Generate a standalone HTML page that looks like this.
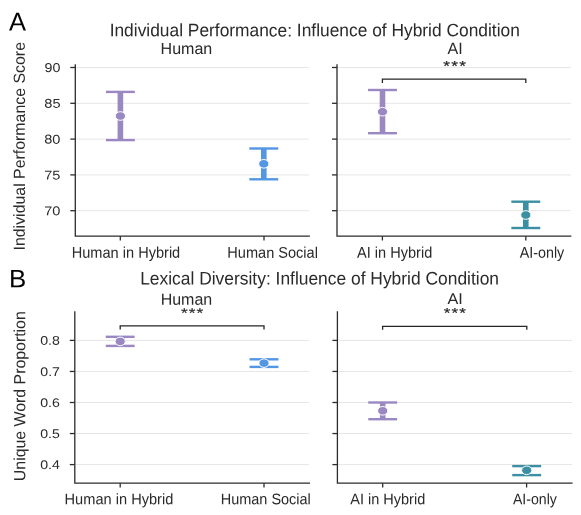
<!DOCTYPE html>
<html><head><meta charset="utf-8"><style>
html,body{margin:0;padding:0;background:#fff;}
svg{display:block;will-change:transform;font-family:"Liberation Sans",sans-serif;}
</style></head><body>
<svg width="581" height="515" viewBox="0 0 581 515">
<rect width="581" height="515" fill="#fff"/>
<line x1="76.10" x2="308.90" y1="67.5" y2="67.5" stroke="#e6e6e6" stroke-width="1"/>
<line x1="76.10" x2="308.90" y1="103.3" y2="103.3" stroke="#e6e6e6" stroke-width="1"/>
<line x1="76.10" x2="308.90" y1="139.1" y2="139.1" stroke="#e6e6e6" stroke-width="1"/>
<line x1="76.10" x2="308.90" y1="174.9" y2="174.9" stroke="#e6e6e6" stroke-width="1"/>
<line x1="76.10" x2="308.90" y1="210.7" y2="210.7" stroke="#e6e6e6" stroke-width="1"/>
<line x1="337.80" x2="571.00" y1="67.5" y2="67.5" stroke="#e6e6e6" stroke-width="1"/>
<line x1="337.80" x2="571.00" y1="103.3" y2="103.3" stroke="#e6e6e6" stroke-width="1"/>
<line x1="337.80" x2="571.00" y1="139.1" y2="139.1" stroke="#e6e6e6" stroke-width="1"/>
<line x1="337.80" x2="571.00" y1="174.9" y2="174.9" stroke="#e6e6e6" stroke-width="1"/>
<line x1="337.80" x2="571.00" y1="210.7" y2="210.7" stroke="#e6e6e6" stroke-width="1"/>
<line x1="75.60" x2="309.10" y1="340.4" y2="340.4" stroke="#e6e6e6" stroke-width="1"/>
<line x1="75.60" x2="309.10" y1="371.45" y2="371.45" stroke="#e6e6e6" stroke-width="1"/>
<line x1="75.60" x2="309.10" y1="402.5" y2="402.5" stroke="#e6e6e6" stroke-width="1"/>
<line x1="75.60" x2="309.10" y1="433.55" y2="433.55" stroke="#e6e6e6" stroke-width="1"/>
<line x1="75.60" x2="309.10" y1="464.6" y2="464.6" stroke="#e6e6e6" stroke-width="1"/>
<line x1="338.20" x2="572.00" y1="340.4" y2="340.4" stroke="#e6e6e6" stroke-width="1"/>
<line x1="338.20" x2="572.00" y1="371.45" y2="371.45" stroke="#e6e6e6" stroke-width="1"/>
<line x1="338.20" x2="572.00" y1="402.5" y2="402.5" stroke="#e6e6e6" stroke-width="1"/>
<line x1="338.20" x2="572.00" y1="433.55" y2="433.55" stroke="#e6e6e6" stroke-width="1"/>
<line x1="338.20" x2="572.00" y1="464.6" y2="464.6" stroke="#e6e6e6" stroke-width="1"/>
<line x1="120.4" x2="120.4" y1="91.9" y2="140.1" stroke="#9a88c3" stroke-width="5.6"/>
<line x1="105.95" x2="134.85" y1="91.9" y2="91.9" stroke="#9a88c3" stroke-width="2.4"/>
<line x1="105.95" x2="134.85" y1="140.1" y2="140.1" stroke="#9a88c3" stroke-width="2.4"/>
<ellipse cx="120.4" cy="116.0" rx="5.1" ry="4.3" fill="#9a88c3" stroke="#fff" stroke-width="1.0"/>
<line x1="263.8" x2="263.8" y1="148.5" y2="179.3" stroke="#5396e3" stroke-width="5.6"/>
<line x1="249.35" x2="278.25" y1="148.5" y2="148.5" stroke="#5396e3" stroke-width="2.4"/>
<line x1="249.35" x2="278.25" y1="179.3" y2="179.3" stroke="#5396e3" stroke-width="2.4"/>
<ellipse cx="263.8" cy="163.8" rx="5.1" ry="4.3" fill="#5396e3" stroke="#fff" stroke-width="1.0"/>
<line x1="382.5" x2="382.5" y1="90.0" y2="133.2" stroke="#9a88c3" stroke-width="5.6"/>
<line x1="368.05" x2="396.95" y1="90.0" y2="90.0" stroke="#9a88c3" stroke-width="2.4"/>
<line x1="368.05" x2="396.95" y1="133.2" y2="133.2" stroke="#9a88c3" stroke-width="2.4"/>
<ellipse cx="382.5" cy="111.7" rx="5.1" ry="4.3" fill="#9a88c3" stroke="#fff" stroke-width="1.0"/>
<line x1="525.8" x2="525.8" y1="201.7" y2="228.0" stroke="#3a8fa2" stroke-width="5.6"/>
<line x1="511.35" x2="540.25" y1="201.7" y2="201.7" stroke="#3a8fa2" stroke-width="2.4"/>
<line x1="511.35" x2="540.25" y1="228.0" y2="228.0" stroke="#3a8fa2" stroke-width="2.4"/>
<ellipse cx="525.8" cy="215.0" rx="5.1" ry="4.3" fill="#3a8fa2" stroke="#fff" stroke-width="1.0"/>
<line x1="120.2" x2="120.2" y1="336.8" y2="345.9" stroke="#9a88c3" stroke-width="5.6"/>
<line x1="105.75" x2="134.65" y1="336.8" y2="336.8" stroke="#9a88c3" stroke-width="2.4"/>
<line x1="105.75" x2="134.65" y1="345.9" y2="345.9" stroke="#9a88c3" stroke-width="2.4"/>
<ellipse cx="120.2" cy="341.4" rx="5.1" ry="4.3" fill="#9a88c3" stroke="#fff" stroke-width="1.0"/>
<line x1="264.0" x2="264.0" y1="359.3" y2="366.9" stroke="#5396e3" stroke-width="5.6"/>
<line x1="249.55" x2="278.45" y1="359.3" y2="359.3" stroke="#5396e3" stroke-width="2.4"/>
<line x1="249.55" x2="278.45" y1="366.9" y2="366.9" stroke="#5396e3" stroke-width="2.4"/>
<ellipse cx="264.0" cy="363.1" rx="5.1" ry="4.3" fill="#5396e3" stroke="#fff" stroke-width="1.0"/>
<line x1="382.7" x2="382.7" y1="402.5" y2="419.2" stroke="#9a88c3" stroke-width="5.6"/>
<line x1="368.25" x2="397.15" y1="402.5" y2="402.5" stroke="#9a88c3" stroke-width="2.4"/>
<line x1="368.25" x2="397.15" y1="419.2" y2="419.2" stroke="#9a88c3" stroke-width="2.4"/>
<ellipse cx="382.7" cy="410.8" rx="5.1" ry="4.3" fill="#9a88c3" stroke="#fff" stroke-width="1.0"/>
<line x1="526.7" x2="526.7" y1="466.1" y2="475.1" stroke="#3a8fa2" stroke-width="5.6"/>
<line x1="512.25" x2="541.15" y1="466.1" y2="466.1" stroke="#3a8fa2" stroke-width="2.4"/>
<line x1="512.25" x2="541.15" y1="475.1" y2="475.1" stroke="#3a8fa2" stroke-width="2.4"/>
<ellipse cx="526.7" cy="470.3" rx="5.1" ry="4.3" fill="#3a8fa2" stroke="#fff" stroke-width="1.0"/>
<path d="M75.3 64.3 V236.2 H309.9" fill="none" stroke="#2c2c2c" stroke-width="1.3"/>
<line x1="70.30" x2="75.3" y1="67.5" y2="67.5" stroke="#2c2c2c" stroke-width="1.3"/>
<line x1="70.30" x2="75.3" y1="103.3" y2="103.3" stroke="#2c2c2c" stroke-width="1.3"/>
<line x1="70.30" x2="75.3" y1="139.1" y2="139.1" stroke="#2c2c2c" stroke-width="1.3"/>
<line x1="70.30" x2="75.3" y1="174.9" y2="174.9" stroke="#2c2c2c" stroke-width="1.3"/>
<line x1="70.30" x2="75.3" y1="210.7" y2="210.7" stroke="#2c2c2c" stroke-width="1.3"/>
<line x1="120.3" x2="120.3" y1="236.2" y2="240.50" stroke="#2c2c2c" stroke-width="1.3"/>
<line x1="264.0" x2="264.0" y1="236.2" y2="240.50" stroke="#2c2c2c" stroke-width="1.3"/>
<path d="M337.0 64.3 V236.2 H571.4" fill="none" stroke="#2c2c2c" stroke-width="1.3"/>
<line x1="332.00" x2="337.0" y1="67.5" y2="67.5" stroke="#2c2c2c" stroke-width="1.3"/>
<line x1="332.00" x2="337.0" y1="103.3" y2="103.3" stroke="#2c2c2c" stroke-width="1.3"/>
<line x1="332.00" x2="337.0" y1="139.1" y2="139.1" stroke="#2c2c2c" stroke-width="1.3"/>
<line x1="332.00" x2="337.0" y1="174.9" y2="174.9" stroke="#2c2c2c" stroke-width="1.3"/>
<line x1="332.00" x2="337.0" y1="210.7" y2="210.7" stroke="#2c2c2c" stroke-width="1.3"/>
<line x1="382.4" x2="382.4" y1="236.2" y2="240.50" stroke="#2c2c2c" stroke-width="1.3"/>
<line x1="525.8" x2="525.8" y1="236.2" y2="240.50" stroke="#2c2c2c" stroke-width="1.3"/>
<path d="M74.8 311.3 V483.2 H310.0" fill="none" stroke="#2c2c2c" stroke-width="1.3"/>
<line x1="69.80" x2="74.8" y1="340.4" y2="340.4" stroke="#2c2c2c" stroke-width="1.3"/>
<line x1="69.80" x2="74.8" y1="371.45" y2="371.45" stroke="#2c2c2c" stroke-width="1.3"/>
<line x1="69.80" x2="74.8" y1="402.5" y2="402.5" stroke="#2c2c2c" stroke-width="1.3"/>
<line x1="69.80" x2="74.8" y1="433.55" y2="433.55" stroke="#2c2c2c" stroke-width="1.3"/>
<line x1="69.80" x2="74.8" y1="464.6" y2="464.6" stroke="#2c2c2c" stroke-width="1.3"/>
<line x1="120.2" x2="120.2" y1="483.2" y2="487.50" stroke="#2c2c2c" stroke-width="1.3"/>
<line x1="264.0" x2="264.0" y1="483.2" y2="487.50" stroke="#2c2c2c" stroke-width="1.3"/>
<path d="M337.4 311.3 V483.2 H572.6" fill="none" stroke="#2c2c2c" stroke-width="1.3"/>
<line x1="332.40" x2="337.4" y1="340.4" y2="340.4" stroke="#2c2c2c" stroke-width="1.3"/>
<line x1="332.40" x2="337.4" y1="371.45" y2="371.45" stroke="#2c2c2c" stroke-width="1.3"/>
<line x1="332.40" x2="337.4" y1="402.5" y2="402.5" stroke="#2c2c2c" stroke-width="1.3"/>
<line x1="332.40" x2="337.4" y1="433.55" y2="433.55" stroke="#2c2c2c" stroke-width="1.3"/>
<line x1="332.40" x2="337.4" y1="464.6" y2="464.6" stroke="#2c2c2c" stroke-width="1.3"/>
<line x1="382.7" x2="382.7" y1="483.2" y2="487.50" stroke="#2c2c2c" stroke-width="1.3"/>
<line x1="526.6" x2="526.6" y1="483.2" y2="487.50" stroke="#2c2c2c" stroke-width="1.3"/>
<path d="M382.4 82.89999999999999 V79.1 H525.8 V82.89999999999999" fill="none" stroke="#262626" stroke-width="1.3"/>
<path d="M120.2 329.4 V325.9 H264.0 V329.4" fill="none" stroke="#262626" stroke-width="1.3"/>
<path d="M382.6 329.8 V326.3 H526.8 V329.8" fill="none" stroke="#262626" stroke-width="1.3"/>
<text transform="translate(9.067 30.600) matrix(1.0000 0.002 0 1.0085 0 0)" font-size="25.509" fill="#000">A</text>
<text transform="translate(8.953 287.200) matrix(1.0000 0.002 0 0.9731 0 0)" font-size="25.841" fill="#000">B</text>
<text transform="translate(109.645 36.200) matrix(1.0000 0.002 0 1.0374 0 0)" font-size="17.373" fill="#2a2a2a"><tspan y="-0.000">Individual </tspan><tspan y="-0.151">Performance: </tspan><tspan y="-0.361">Influence </tspan><tspan y="-0.506">of </tspan><tspan y="-0.544">Hybrid </tspan><tspan y="-0.650">Condition</tspan></text>
<text transform="translate(140.196 284.400) matrix(1.0000 0.002 0 1.0436 0 0)" font-size="17.409" fill="#2a2a2a"><tspan y="-0.000">Lexical </tspan><tspan y="-0.113">Diversity: </tspan><tspan y="-0.260">Influence </tspan><tspan y="-0.404">of </tspan><tspan y="-0.441">Hybrid </tspan><tspan y="-0.547">Condition</tspan></text>
<text transform="translate(160.568 53.900) matrix(1.0000 0.002 0 1.0042 0 0)" font-size="16.066" fill="#2a2a2a">Human</text>
<text transform="translate(447.441 53.940) matrix(1.0000 0.002 0 1.0156 0 0)" font-size="16.115" fill="#2a2a2a">AI</text>
<text transform="translate(160.641 304.630) matrix(1.0000 0.002 0 1.0101 0 0)" font-size="16.016" fill="#2a2a2a">Human</text>
<text transform="translate(447.383 304.020) matrix(1.0000 0.002 0 0.9535 0 0)" font-size="16.250" fill="#2a2a2a">AI</text>
<text transform="translate(443.129 71.046) matrix(1.1531 0.002 0 0.9748 0 0)" font-size="14.935" fill="#2a2a2a" letter-spacing="1.13" stroke="#2a2a2a" stroke-width="0.2">***</text>
<text transform="translate(181.019 317.463) matrix(1.2537 0.002 0 0.9739 0 0)" font-size="13.749" fill="#2a2a2a" letter-spacing="0.78" stroke="#2a2a2a" stroke-width="0.2">***</text>
<text transform="translate(443.653 317.587) matrix(1.2200 0.002 0 0.9774 0 0)" font-size="14.079" fill="#2a2a2a" letter-spacing="0.89" stroke="#2a2a2a" stroke-width="0.2">***</text>
<text transform="translate(71.725 257.800) matrix(1.0000 0.002 0 1.0672 0 0)" font-size="14.573" fill="#2a2a2a"><tspan y="-0.000">Human </tspan><tspan y="-0.096">in </tspan><tspan y="-0.124">Hybrid</tspan></text>
<text transform="translate(227.352 257.800) matrix(1.0000 0.002 0 1.0684 0 0)" font-size="14.556" fill="#2a2a2a"><tspan y="-0.000">Human </tspan><tspan y="-0.095">Social</tspan></text>
<text transform="translate(357.085 257.800) matrix(1.0000 0.002 0 1.0682 0 0)" font-size="14.560" fill="#2a2a2a"><tspan y="-0.000">AI </tspan><tspan y="-0.033">in </tspan><tspan y="-0.062">Hybrid</tspan></text>
<text transform="translate(519.729 257.800) matrix(1.0000 0.002 0 1.0866 0 0)" font-size="14.313" fill="#2a2a2a">AI-only</text>
<text transform="translate(64.550 504.200) matrix(1.0000 0.002 0 1.0491 0 0)" font-size="14.616" fill="#2a2a2a"><tspan y="-0.000">Human </tspan><tspan y="-0.098">in </tspan><tspan y="-0.127">Hybrid</tspan></text>
<text transform="translate(220.665 504.200) matrix(1.0000 0.002 0 1.0574 0 0)" font-size="14.502" fill="#2a2a2a"><tspan y="-0.000">Human </tspan><tspan y="-0.096">Social</tspan></text>
<text transform="translate(350.220 504.200) matrix(1.0000 0.002 0 1.0552 0 0)" font-size="14.531" fill="#2a2a2a"><tspan y="-0.000">AI </tspan><tspan y="-0.034">in </tspan><tspan y="-0.063">Hybrid</tspan></text>
<text transform="translate(512.880 504.200) matrix(1.0000 0.002 0 1.0849 0 0)" font-size="14.134" fill="#2a2a2a">AI-only</text>
<text transform="translate(44.468 72.024) matrix(1.0000 0.002 0 0.9012 0 0)" font-size="14.266" fill="#2a2a2a">90</text>
<text transform="translate(44.257 107.824) matrix(1.0000 0.002 0 0.8787 0 0)" font-size="14.631" fill="#2a2a2a">85</text>
<text transform="translate(44.228 143.624) matrix(1.0000 0.002 0 0.8794 0 0)" font-size="14.620" fill="#2a2a2a">80</text>
<text transform="translate(44.253 179.424) matrix(1 0.002 0 0.8800 0 0)" font-size="14.600" fill="#2a2a2a">75</text>
<text transform="translate(44.211 215.224) matrix(1 0.002 0 0.8800 0 0)" font-size="14.600" fill="#2a2a2a">70</text>
<text transform="translate(40.135 344.827) matrix(1.0000 0.002 0 0.8871 0 0)" font-size="14.175" fill="#2a2a2a">0.8</text>
<text transform="translate(40.344 375.877) matrix(1.0000 0.002 0 0.8910 0 0)" font-size="14.112" fill="#2a2a2a">0.7</text>
<text transform="translate(40.153 406.927) matrix(1.0000 0.002 0 0.8882 0 0)" font-size="14.156" fill="#2a2a2a">0.6</text>
<text transform="translate(40.178 437.977) matrix(1.0000 0.002 0 0.8922 0 0)" font-size="14.094" fill="#2a2a2a">0.5</text>
<text transform="translate(40.133 469.027) matrix(1.0000 0.002 0 0.8887 0 0)" font-size="14.148" fill="#2a2a2a">0.4</text>
<text transform="translate(24.780 250.467) rotate(-90) matrix(1 0.002 0 1.0019 0 0)" font-size="15.900" fill="#2a2a2a"><tspan y="-0.000">Individual </tspan><tspan y="-0.143">Performance </tspan><tspan y="-0.333">Score</tspan></text>
<text transform="translate(25.200 481.125) rotate(-90) matrix(1 0.002 0 1.0196 0 0)" font-size="15.880" fill="#2a2a2a"><tspan y="-0.000">Unique </tspan><tspan y="-0.107">Word </tspan><tspan y="-0.190">Proportion</tspan></text>
</svg>
</body></html>
